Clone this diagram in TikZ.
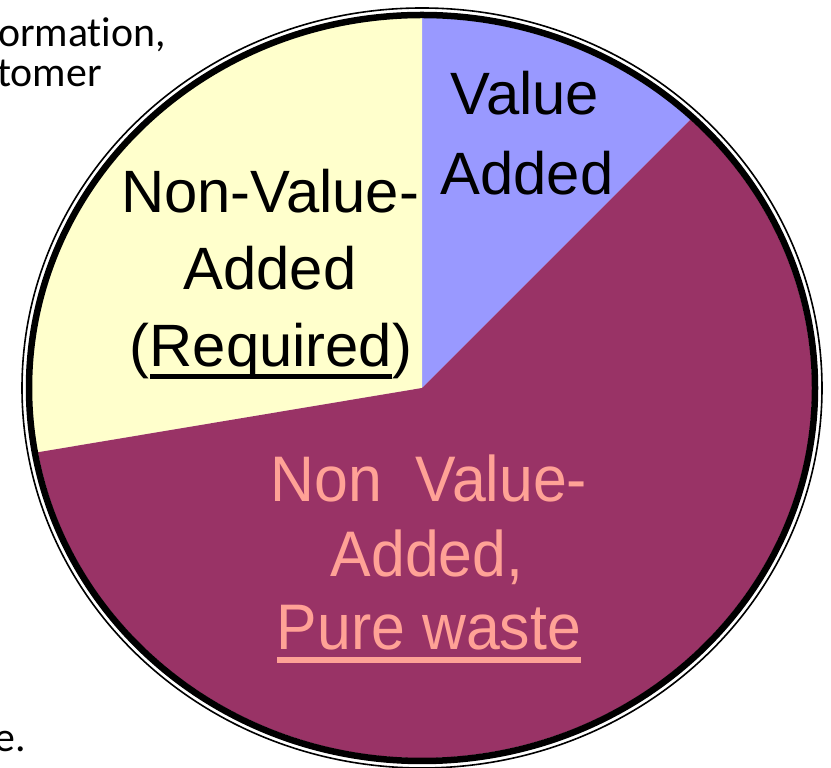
\documentclass[tikz,border=0pt]{standalone}
\usepackage{fontspec}
\setmainfont{Liberation Sans}
\newfontfamily\calfont[Ligatures=NoCommon]{Carlito}
\definecolor{vablue}{RGB}{153,153,255}
\definecolor{nvayellow}{RGB}{255,255,204}
\definecolor{wastepurple}{RGB}{153,51,102}
\definecolor{wastetext}{RGB}{255,162,150}
\newsavebox\ulbox
\newcommand\myul[1]{\sbox\ulbox{#1}\rlap{\rule[-0.2em]{\wd\ulbox}{0.09em}}\usebox\ulbox}
\begin{document}
\begin{tikzpicture}[x=1bp,y=1bp,
  lbl/.style={inner sep=0pt,anchor=base,font=\fontsize{60}{72}\selectfont},
  wastelbl/.style={inner sep=0pt,anchor=base,text=wastetext,font=\fontsize{61}{74}\selectfont,yscale=1.06},
  sidetext/.style={inner sep=0pt,font=\calfont\fontsize{42}{50}\selectfont},
  border/.style={line width=6.5bp,draw=black},
  outerring/.style={line width=1.6bp,draw=black}]
\useasboundingbox (0,0) rectangle (831,768);
\fill[white] (0,0) rectangle (831,768);
\coordinate (C) at (422,380);
% slices
\fill[vablue] (C) -- +(46.5:390 and 370) arc[start angle=46.5,end angle=90,x radius=390,y radius=370] -- cycle;
\fill[nvayellow] (C) -- +(90:390 and 370) arc[start angle=90,end angle=190,x radius=390,y radius=370] -- cycle;
\fill[wastepurple] (C) -- +(190:390 and 370) arc[start angle=190,end angle=406.5,x radius=390,y radius=370] -- cycle;
% rims
\draw[border] (C) ellipse[x radius=393,y radius=373];
\draw[outerring] (C) ellipse[x radius=400,y radius=380];
% labels
\node[lbl] (va1) at (525,653) {Value};
\node[lbl] (va2) at (527,573) {Added};
\node[lbl] (nr1) at (270,555) {Non-Value-};
\node[lbl] (nr2) at (270,478) {Added};
\node[lbl] (nr3) at (271,401) {(\myul{Required})};
\node[wastelbl] (pw1) at (429,266) {Non\ \ Value-};
\node[wastelbl] (pw2) at (427,191) {Added,};
\node[wastelbl] (pw3) at (429,118) {\myul{Pure waste}};
% clipped side text
\node[sidetext,anchor=base west] (s1) at (-2,721) {ormation,};
\node[sidetext,anchor=base east] (s2) at (102,681) {tomer};
\node[sidetext,anchor=base east] (s3) at (26,16) {e.};
\end{tikzpicture}
\end{document}
